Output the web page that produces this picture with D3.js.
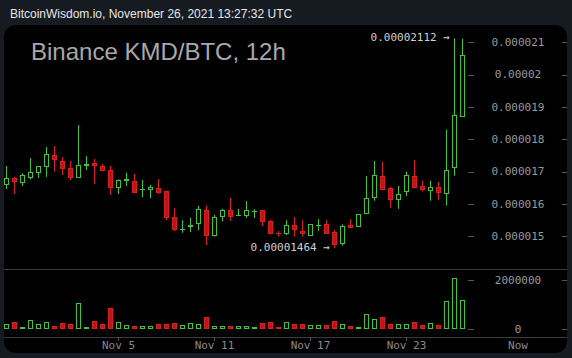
<!DOCTYPE html>
<html><head><meta charset="utf-8">
<script src="https://cdn.jsdelivr.net/npm/d3@7"></script>
<style>
html,body{margin:0;padding:0;background:#161a21;}
svg{display:block;}
</style></head><body>
<svg id="c" width="572" height="358"></svg>
<script>
// ---- data (12h candles, KMD/BTC) ----
const startTime = "2021-10-29T00:00:00Z";
const openP  = [0.00001663,0.00001680,0.00001669,0.00001684,0.00001700,0.00001718,0.00001750,0.00001732,0.00001711,0.00001684,
                0.00001722,0.00001726,0.00001717,0.00001705,0.00001654,0.00001675,0.00001671,0.00001645,0.00001646,0.00001649,
                0.00001640,0.00001560,0.00001522,0.00001533,0.00001542,0.00001581,0.00001503,0.00001562,0.00001581,0.00001566,
                0.00001567,0.00001578,0.00001580,0.00001548,0.00001510,0.00001509,0.00001534,0.00001517,0.00001505,0.00001535,
                0.00001537,0.00001513,0.00001479,0.00001534,0.00001532,0.00001571,0.00001621,0.00001686,0.00001649,0.00001616,
                0.00001639,0.00001686,0.00001656,0.00001644,0.00001652,0.00001635,0.00001715,0.00001873];
const highP  = [0.00001717,0.00001684,0.00001695,0.00001742,0.00001717,0.00001776,0.00001779,0.00001745,0.00001733,0.00001844,
                0.00001748,0.00001739,0.00001724,0.00001717,0.00001676,0.00001697,0.00001693,0.00001674,0.00001659,0.00001677,
                0.00001641,0.00001587,0.00001550,0.00001557,0.00001594,0.00001595,0.00001566,0.00001585,0.00001619,0.00001585,
                0.00001609,0.00001584,0.00001581,0.00001551,0.00001516,0.00001550,0.00001559,0.00001550,0.00001538,0.00001553,
                0.00001550,0.00001520,0.00001537,0.00001553,0.00001569,0.00001686,0.00001733,0.00001730,0.00001653,0.00001656,
                0.00001700,0.00001736,0.00001672,0.00001672,0.00001668,0.00001830,0.00002112,0.00002111];
const lowP   = [0.00001646,0.00001631,0.00001656,0.00001676,0.00001681,0.00001684,0.00001700,0.00001690,0.00001674,0.00001681,
                0.00001705,0.00001662,0.00001702,0.00001628,0.00001631,0.00001656,0.00001633,0.00001621,0.00001618,0.00001631,
                0.00001550,0.00001517,0.00001511,0.00001513,0.00001519,0.00001473,0.00001499,0.00001546,0.00001548,0.00001565,
                0.00001557,0.00001557,0.00001531,0.00001506,0.00001499,0.00001504,0.00001499,0.00001499,0.00001502,0.00001517,
                0.00001507,0.00001464,0.00001471,0.00001529,0.00001529,0.00001569,0.00001610,0.00001647,0.00001588,0.00001585,
                0.00001625,0.00001653,0.00001639,0.00001610,0.00001612,0.00001595,0.00001687,0.00001875];
const closeP = [0.00001680,0.00001672,0.00001690,0.00001698,0.00001717,0.00001754,0.00001740,0.00001712,0.00001684,0.00001720,
                0.00001723,0.00001721,0.00001705,0.00001653,0.00001673,0.00001676,0.00001638,0.00001645,0.00001652,0.00001638,
                0.00001561,0.00001522,0.00001523,0.00001534,0.00001583,0.00001503,0.00001560,0.00001582,0.00001564,0.00001567,
                0.00001581,0.00001579,0.00001548,0.00001509,0.00001509,0.00001535,0.00001522,0.00001510,0.00001537,0.00001536,
                0.00001511,0.00001476,0.00001532,0.00001530,0.00001568,0.00001617,0.00001690,0.00001647,0.00001614,0.00001631,
                0.00001690,0.00001653,0.00001645,0.00001651,0.00001638,0.00001704,0.00001875,0.00002061];
const volume = [220000,302000,100000,384000,220000,302000,140000,260000,190000,1078000,
                100000,343000,190000,873000,302000,180000,110000,140000,140000,190000,
                220000,260000,180000,260000,220000,506000,110000,140000,140000,140000,
                140000,70000,230000,270000,60000,280000,216000,216000,160000,160000,
                160000,327000,200000,120000,80000,612000,408000,490000,200000,200000,
                200000,285000,160000,245000,160000,1143000,2082000,1184000];
const priceTicks = [0.000015,0.000016,0.000017,0.000018,0.000019,0.00002,0.000021];
const priceTickLabels = ["0.000015","0.000016","0.000017","0.000018","0.000019","0.00002","0.000021"];
const volTicks = [0,2000000];
const volTickLabels = ["0","2000000"];
const dateTicks = ["2021-11-05T00:00:00Z","2021-11-11T00:00:00Z","2021-11-17T00:00:00Z","2021-11-23T00:00:00Z"];
const dateTickLabels = ["Nov 5","Nov 11","Nov 17","Nov 23"];
const headerText = "BitcoinWisdom.io, November 26, 2021 13:27:32 UTC";
const titleText = "Binance KMD/BTC, 12h";

// ---- build ----
const t0 = new Date(startTime);
const times = d3.timeHour.every(12).range(t0, d3.timeHour.offset(t0, 12*openP.length));
const candles = times.map((t,i)=>({t,o:openP[i],h:highP[i],l:lowP[i],c:closeP[i],v:volume[i],up:closeP[i]>=openP[i]}));

const GREEN="#3fc43c", RED_FILL="#b8181a", RED="#d81e1e";
const svg = d3.select("#c");
svg.append("rect").attr("x",0).attr("y",0).attr("width",572).attr("height",358).attr("fill","#161a21");
svg.append("text").attr("x",10).attr("y",18).attr("fill","#e6e6e6")
  .attr("font-family","Liberation Sans, Arial, sans-serif").attr("font-size",12).text(headerText);
svg.append("rect").attr("x",4).attr("y",25).attr("width",563).attr("height",328).attr("rx",12).attr("fill","#000");

const x = d3.scaleTime().domain([times[0], times[times.length-1]]).range([6,462]);
const y = d3.scaleLinear().domain([0.000015,0.000021]).range([236.3,42.3]);
const vy = d3.scaleLinear().domain([0,2000000]).range([329,280]);

svg.append("text").attr("x",31).attr("y",60).attr("fill","#a8a8a8")
  .attr("font-family","Liberation Sans, Arial, sans-serif").attr("font-size",24).text(titleText);

const lineCol="#3c3c3c";
svg.append("line").attr("x1",4).attr("x2",567).attr("y1",269.5).attr("y2",269.5).attr("stroke",lineCol);
svg.append("line").attr("x1",4).attr("x2",567).attr("y1",337.5).attr("y2",337.5).attr("stroke",lineCol);

// price axis
const mono = "DejaVu Sans Mono, monospace";
const pAx = svg.append("g");
priceTicks.forEach((v,i)=>{
  const yy = Math.round(y(v))+0.5;
  pAx.append("line").attr("x1",468).attr("x2",474).attr("y1",yy).attr("y2",yy).attr("stroke","#555");
  pAx.append("line").attr("x1",562).attr("x2",567).attr("y1",yy).attr("y2",yy).attr("stroke","#555");
  pAx.append("text").attr("x",518).attr("y",y(v)).attr("dy","0.33em").attr("text-anchor","middle")
    .attr("fill","#9a9a9a").attr("font-family",mono).attr("font-size",11).text(priceTickLabels[i]);
});
volTicks.forEach((v,i)=>{
  const yy = Math.round(vy(v))+0.5;
  pAx.append("line").attr("x1",468).attr("x2",474).attr("y1",yy).attr("y2",yy).attr("stroke","#555");
  pAx.append("line").attr("x1",562).attr("x2",567).attr("y1",yy).attr("y2",yy).attr("stroke","#555");
  pAx.append("text").attr("x",518).attr("y",vy(v)).attr("dy","0.33em").attr("text-anchor","middle")
    .attr("fill","#9a9a9a").attr("font-family",mono).attr("font-size",11).text(volTickLabels[i]);
});

// date axis
dateTicks.forEach((d,i)=>{
  const xx = Math.round(x(new Date(d)))+0.5;
  svg.append("line").attr("x1",xx).attr("x2",xx).attr("y1",337).attr("y2",341).attr("stroke","#555");
  svg.append("text").attr("x",xx).attr("y",349).attr("text-anchor","middle").attr("fill","#8a8a8a")
    .attr("font-family",mono).attr("font-size",11).text(dateTickLabels[i]);
});
svg.append("text").attr("x",518).attr("y",349).attr("text-anchor","middle").attr("fill","#8a8a8a")
  .attr("font-family",mono).attr("font-size",11).text("Now");

// candles
const g = svg.append("g");
candles.forEach(d=>{
  const cx = Math.round(x(d.t))+0.5;
  const col = d.up?GREEN:RED;
  g.append("line").attr("x1",cx).attr("x2",cx).attr("y1",y(d.h)).attr("y2",y(d.l)).attr("stroke",col);
  const top = Math.round(y(Math.max(d.o,d.c)))+0.5, bot = Math.round(y(Math.min(d.o,d.c)))+0.5;
  if (bot-top < 1) {
    g.append("line").attr("x1",cx-2.5).attr("x2",cx+2.5).attr("y1",top).attr("y2",top).attr("stroke",col);
  } else {
    g.append("rect").attr("x",cx-2).attr("y",top).attr("width",4).attr("height",bot-top)
      .attr("fill",d.up?"#000":RED_FILL).attr("stroke",col);
  }
  // volume
  const vt = Math.round(vy(d.v))+0.5, vb = 328.5;
  g.append("rect").attr("x",cx-2).attr("y",Math.min(vt,vb-1)).attr("width",4).attr("height",Math.max(1,vb-vt))
    .attr("fill",d.up?"#000":RED_FILL).attr("stroke",col);
});

// high/low markers
const hiI = d3.maxIndex(candles,d=>d.h), loI = d3.minIndex(candles,d=>d.l);
[[hiI,candles[hiI].h],[loI,candles[loI].l]].forEach(([i,v])=>{
  svg.append("text").attr("x",x(candles[i].t)-4).attr("y",y(v)-1).attr("dy","0.33em").attr("text-anchor","end")
    .attr("fill","#cfcfcf").attr("font-family",mono).attr("font-size",11)
    .text(v.toFixed(8)+" \u2192");
});
</script>
</body></html>
